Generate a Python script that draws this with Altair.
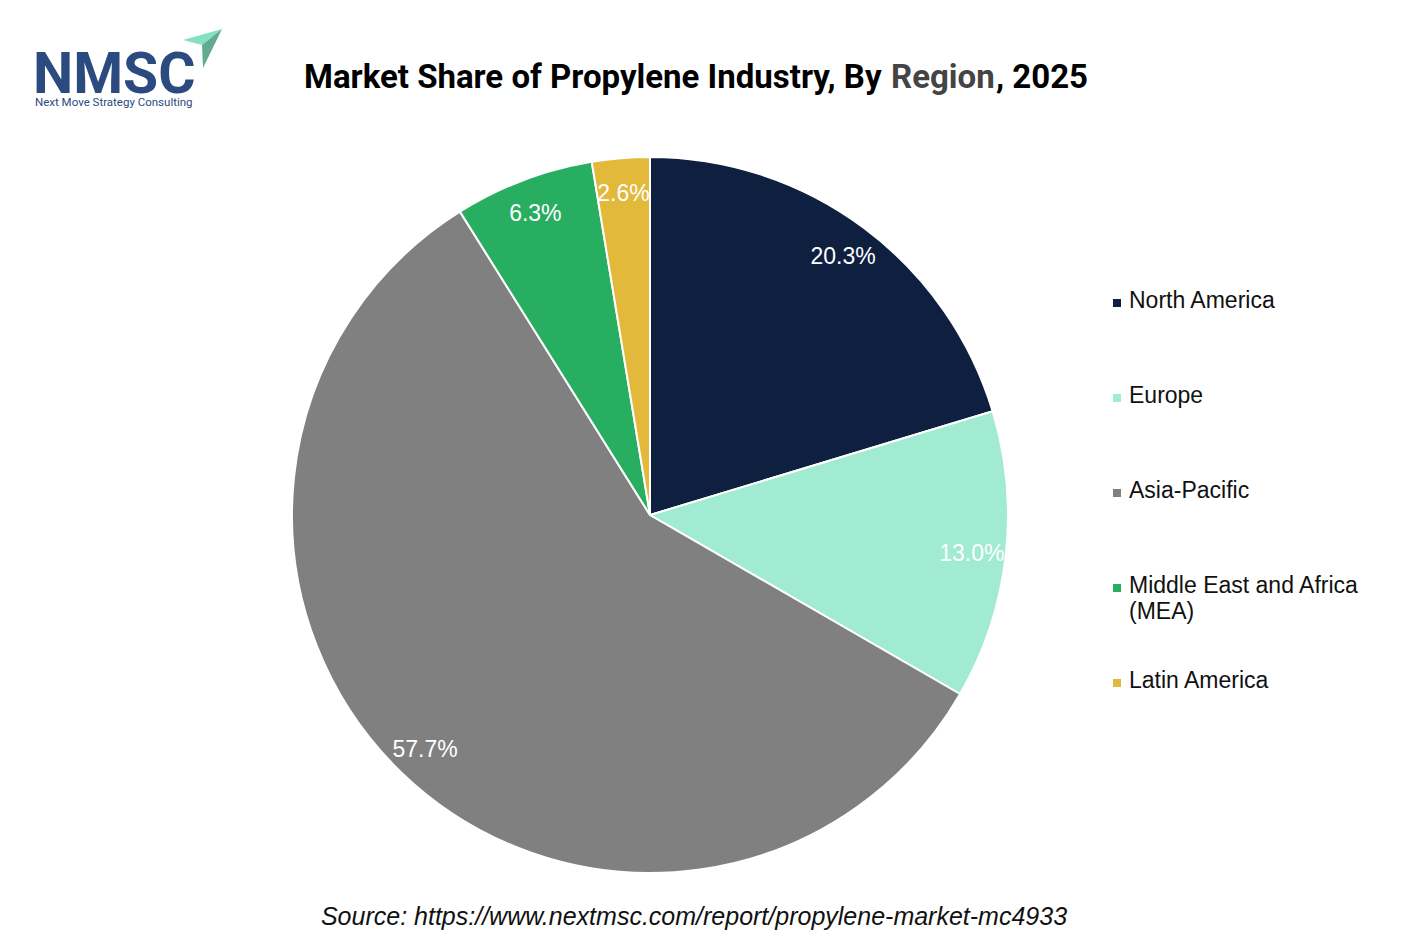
import altair as alt
import pandas as pd

regions = ["North America", "Europe", "Asia-Pacific", "Middle East and Africa\n(MEA)", "Latin America"]
shares = [20.3, 13.0, 57.7, 6.3, 2.6]
colors = ["#0f1f40", "#a0ebd2", "#808080", "#27ae60", "#e2b93b"]
labels = ["20.3%", "13.0%", "57.7%", "6.3%", "2.6%"]

df = pd.DataFrame({
    "region": regions,
    "share": shares,
    "label": labels,
    "order": list(range(len(regions))),
})

CX, CY, R = 650, 515, 358

color_scale = alt.Scale(domain=regions, range=colors)

base = alt.Chart(df)

pie = base.mark_arc(outerRadius=R, stroke="white", strokeWidth=2).encode(
    theta=alt.Theta("share:Q", stack=True),
    order=alt.Order("order:Q"),
    color=alt.Color("region:N", scale=color_scale, legend=None),
    x=alt.value(CX),
    y=alt.value(CY),
)

pie_labels = base.mark_text(radius=324, font="Liberation Sans", fontSize=23, color="white").encode(
    theta=alt.Theta("share:Q", stack=True),
    order=alt.Order("order:Q"),
    text="label:N",
    x=alt.value(CX),
    y=alt.value(CY + 2),
)

legend_y = alt.Y("region:N", sort=regions, axis=None,
                 scale=alt.Scale(type="point", range=[303, 683], padding=0))

leg_sq = base.mark_square(size=64, opacity=1).encode(
    x=alt.value(1117),
    y=legend_y,
    color=alt.Color("region:N", scale=color_scale, legend=None),
)

leg_txt = base.mark_text(align="left", baseline="top", dy=-13, font="Liberation Sans",
                         fontSize=23, color="#111111", lineBreak="\n", lineHeight=26).encode(
    x=alt.value(1129),
    y=legend_y,
    text="region:N",
)

title_parts = ["Market Share of Propylene Industry, By", "Region", ", 2025"]
title_x = [304, 891, 996]
title_colors = ["#000000", "#444444", "#000000"]
title_layers = []
for part, xx, cc in zip(title_parts, title_x, title_colors):
    title_layers.append(
        alt.Chart(pd.DataFrame({"t": [part]})).mark_text(
            align="left", baseline="alphabetic", font="Roboto", fontWeight="bold",
            fontSize=33, color=cc).encode(x=alt.value(xx), y=alt.value(88), text="t:N")
    )

source = alt.Chart(pd.DataFrame({"t": ["Source: https://www.nextmsc.com/report/propylene-market-mc4933"]})).mark_text(
    align="center", baseline="middle", font="Liberation Sans", fontStyle="italic",
    fontSize=25, color="#111111").encode(
    x=alt.value(694), y=alt.value(917), text="t:N")

logo = alt.Chart(pd.DataFrame({"t": ["NMSC"]})).mark_text(
    align="left", baseline="alphabetic", font="Roboto", fontWeight="bold",
    fontSize=57, color="#2b4a80").encode(x=alt.value(33), y=alt.value(93), text="t:N")

logo_sub = alt.Chart(pd.DataFrame({"t": ["Next Move Strategy Consulting"]})).mark_text(
    align="left", baseline="middle", font="Roboto", fontSize=11.5,
    color="#2b4a80").encode(x=alt.value(35), y=alt.value(103), text="t:N")

arrow_light = alt.Chart(pd.DataFrame({"a": [1]})).mark_point(
    shape="M -0.95 -0.4 L 1 -0.95 L 0 -0.15 Z", filled=True, size=1600,
    color="#84e0c2", opacity=1, strokeWidth=0).encode(x=alt.value(202), y=alt.value(48))
arrow_dark = alt.Chart(pd.DataFrame({"a": [1]})).mark_point(
    shape="M 0 -0.15 L 1 -0.95 L 0.05 1 Z", filled=True, size=1600,
    color="#62ab8e", opacity=1, strokeWidth=0).encode(x=alt.value(202), y=alt.value(48))

chart = alt.layer(pie, pie_labels, leg_sq, leg_txt, *title_layers, source, logo, logo_sub,
                  arrow_light, arrow_dark).properties(
    width=1426, height=951, autosize=alt.AutoSizeParams(type="none"), padding=0,
    background="white"
).configure_view(stroke=None)

chart.save("out.html", embed_options={"renderer": "svg", "actions": False})
